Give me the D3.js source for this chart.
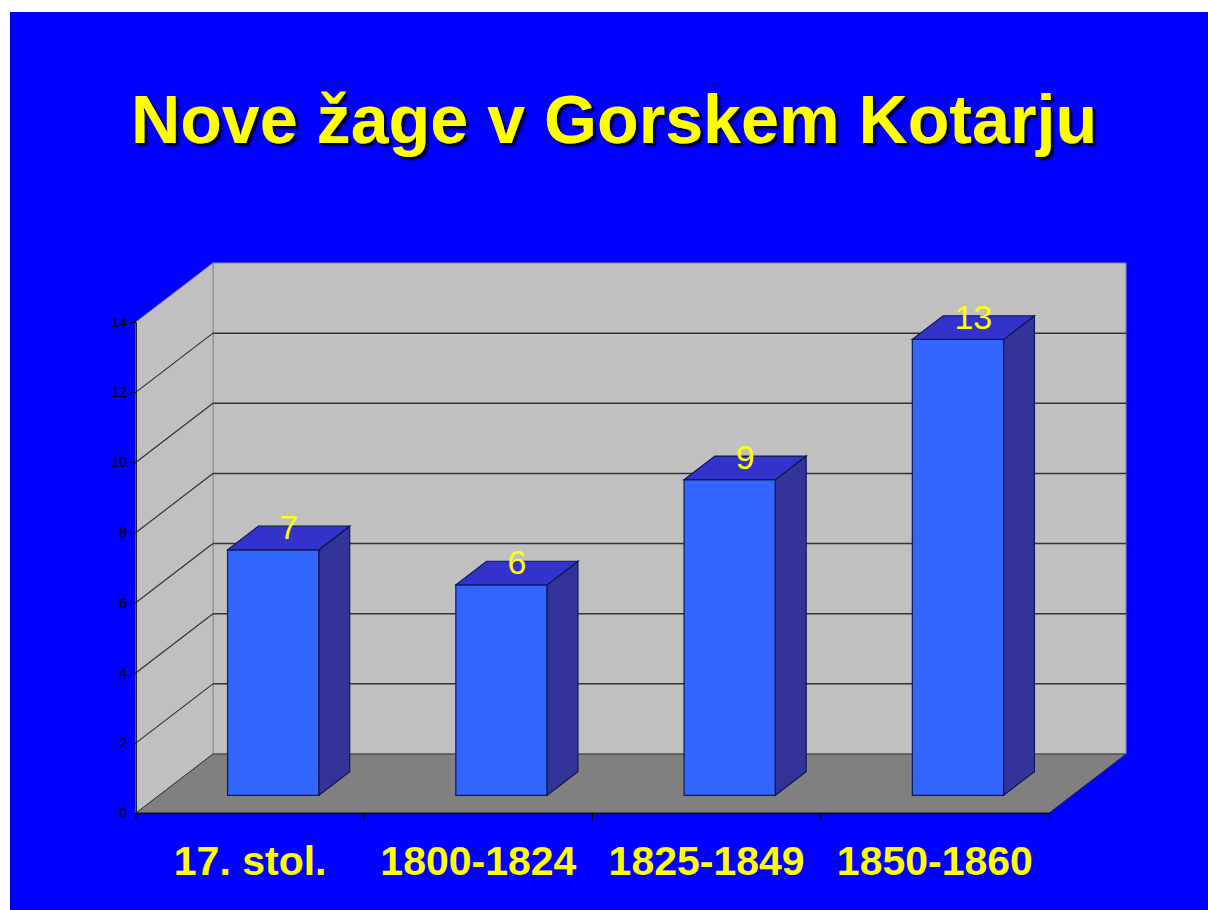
<!DOCTYPE html>
<html>
<head>
<meta charset="utf-8">
<script src="https://cdn.jsdelivr.net/npm/d3@7"></script>
<style>
  body { margin: 0; background: #fff; }
  svg { display: block; }
</style>
</head>
<body>
<svg width="1208" height="910"></svg>
<script>
var svg = d3.select('svg');

// Chart data
var title = 'Nove žage v Gorskem Kotarju';
var categories = ['17. stol.', '1800-1824', '1825-1849', '1850-1860'];
var values = [7, 6, 9, 13];
var yTicks = [0, 2, 4, 6, 8, 10, 12, 14];

// 3D layout: front plane plus an oblique depth offset
var depth = {dx: 77, dy: -59};
var barDepth = [0.3, 0.7];

var x = d3.scaleBand().domain(categories).range([136, 1049]).paddingInner(0.6).paddingOuter(0.3);
var xOuter = d3.scaleBand().domain(categories).range([136, 1049]);
var y = d3.scaleLinear().domain([0, 14]).range([813, 322]);

// project a point (front x, value, depth fraction) to screen
function pt(px, v, d) {
    return [px + d * depth.dx, y(v) + d * depth.dy];
}
function poly(points) {
    return 'M' + points.map(function(p) { return p.join(','); }).join('L') + 'Z';
}

// drop shadow for the title
var defs = svg.append('defs');
defs.append('filter')
    .attr('id', 'shadow')
    .attr('x', '-5%').attr('y', '-20%')
    .attr('width', '110%').attr('height', '140%')
    .append('feDropShadow')
    .attr('dx', 3).attr('dy', 3)
    .attr('stdDeviation', 1.2)
    .attr('flood-color', '#000')
    .attr('flood-opacity', 0.85);

// blue slide background
svg.append('rect')
    .attr('x', 10).attr('y', 12)
    .attr('width', 1198).attr('height', 898)
    .attr('fill', '#0000ff');

svg.append('text')
    .attr('x', 131).attr('y', 143)
    .attr('font-family', 'Arial, "Liberation Sans", sans-serif')
    .attr('font-weight', 'bold')
    .attr('font-size', 68)
    .attr('textLength', 966)
    .attr('lengthAdjust', 'spacing')
    .attr('fill', '#ffff00')
    .attr('filter', 'url(#shadow)')
    .text(title);

var x0 = 136, x1 = 1049;
var chartG = svg.append('g');

// walls
chartG.append('path')
    .attr('d', poly([pt(x0, 0, 1), pt(x1, 0, 1), pt(x1, 14, 1), pt(x0, 14, 1)]))
    .attr('fill', '#c0c0c0')
    .attr('stroke', '#8a8a8a').attr('stroke-width', 1);
chartG.append('path')
    .attr('d', poly([pt(x0, 0, 0), pt(x0, 0, 1), pt(x0, 14, 1), pt(x0, 14, 0)]))
    .attr('fill', '#c0c0c0')
    .attr('stroke', '#8a8a8a').attr('stroke-width', 1);
chartG.append('path')
    .attr('d', poly([pt(x0, 0, 0), pt(x1, 0, 0), pt(x1, 0, 1), pt(x0, 0, 1)]))
    .attr('fill', '#808080')
    .attr('stroke', '#333').attr('stroke-width', 1);

// gridlines on side wall and back wall
var gridVals = yTicks.filter(function(v) { return v > 0 && v < 14; });
chartG.selectAll('.grid-side')
    .data(gridVals)
    .enter()
    .append('line')
    .attr('class', 'grid-side')
    .attr('x1', function(v) { return pt(x0, v, 0)[0]; })
    .attr('y1', function(v) { return pt(x0, v, 0)[1]; })
    .attr('x2', function(v) { return pt(x0, v, 1)[0]; })
    .attr('y2', function(v) { return pt(x0, v, 1)[1]; })
    .attr('stroke', '#333').attr('stroke-width', 1.2);
chartG.selectAll('.grid-back')
    .data(gridVals)
    .enter()
    .append('line')
    .attr('class', 'grid-back')
    .attr('x1', function(v) { return pt(x0, v, 1)[0]; })
    .attr('y1', function(v) { return pt(x0, v, 1)[1]; })
    .attr('x2', function(v) { return pt(x1, v, 1)[0]; })
    .attr('y2', function(v) { return pt(x1, v, 1)[1]; })
    .attr('stroke', '#333').attr('stroke-width', 1.5);

// y axis
var yAxis = d3.axisLeft(y).tickValues(yTicks).tickSize(6).tickPadding(3);
var yAxisG = chartG.append('g')
    .attr('transform', 'translate(' + x0 + ',0)')
    .call(yAxis);
yAxisG.select('.domain').attr('stroke', '#222');
yAxisG.selectAll('.tick line').attr('stroke', '#000');
yAxisG.selectAll('.tick text')
    .attr('fill', '#000')
    .attr('font-size', 14)
    .attr('font-family', 'Arial, "Liberation Sans", sans-serif');

// x axis with yellow bold labels
var xAxis = d3.axisBottom(xOuter).tickSize(0).tickPadding(0);
var xAxisG = chartG.append('g')
    .attr('transform', 'translate(0,' + y(0) + ')')
    .call(xAxis);
xAxisG.select('.domain').attr('stroke', '#111').attr('stroke-width', 1.5);
xAxisG.selectAll('.tick text')
    .attr('fill', '#ffff00')
    .attr('font-size', 41)
    .attr('font-weight', 'bold')
    .attr('font-family', 'Arial, "Liberation Sans", sans-serif')
    .attr('dy', 0)
    .attr('y', 62);
xAxisG.selectAll('.tick line').remove();
xAxisG.selectAll('.sep')
    .data(d3.range(categories.length + 1))
    .enter()
    .append('line')
    .attr('class', 'sep')
    .attr('x1', function(i) { return x0 + i * xOuter.bandwidth(); })
    .attr('x2', function(i) { return x0 + i * xOuter.bandwidth(); })
    .attr('y1', 0).attr('y2', 7)
    .attr('stroke', '#000');

// bars
var bars = chartG.selectAll('.bar')
    .data(categories.map(function(c, i) { return {cat: c, value: values[i]}; }))
    .enter()
    .append('g')
    .attr('class', 'bar');

var da = barDepth[0], db = barDepth[1];
bars.append('path')
    .attr('d', function(d) {
        var l = x(d.cat), r = x(d.cat) + x.bandwidth();
        return poly([pt(l, 0, da), pt(r, 0, da), pt(r, d.value, da), pt(l, d.value, da)]);
    })
    .attr('fill', '#3366ff')
    .attr('stroke', '#0a1a55').attr('stroke-width', 1.2);
bars.append('path')
    .attr('d', function(d) {
        var r = x(d.cat) + x.bandwidth();
        return poly([pt(r, 0, da), pt(r, 0, db), pt(r, d.value, db), pt(r, d.value, da)]);
    })
    .attr('fill', '#333399')
    .attr('stroke', '#0a1a55').attr('stroke-width', 1.2);
bars.append('path')
    .attr('d', function(d) {
        var l = x(d.cat), r = x(d.cat) + x.bandwidth();
        return poly([pt(l, d.value, da), pt(r, d.value, da), pt(r, d.value, db), pt(l, d.value, db)]);
    })
    .attr('fill', '#3333cc')
    .attr('stroke', '#0a1a55').attr('stroke-width', 1.2);

// value labels on the top faces
bars.append('text')
    .attr('x', function(d) { return pt(x(d.cat) + x.bandwidth() / 2, d.value, 0.5)[0]; })
    .attr('y', function(d) { return pt(x(d.cat) + x.bandwidth() / 2, d.value, 0.5)[1] + 1; })
    .attr('text-anchor', 'middle')
    .attr('fill', '#ffff00')
    .attr('font-size', 34)
    .attr('font-family', 'Arial, "Liberation Sans", sans-serif')
    .text(function(d) { return d.value; });
</script>
</body>
</html>
